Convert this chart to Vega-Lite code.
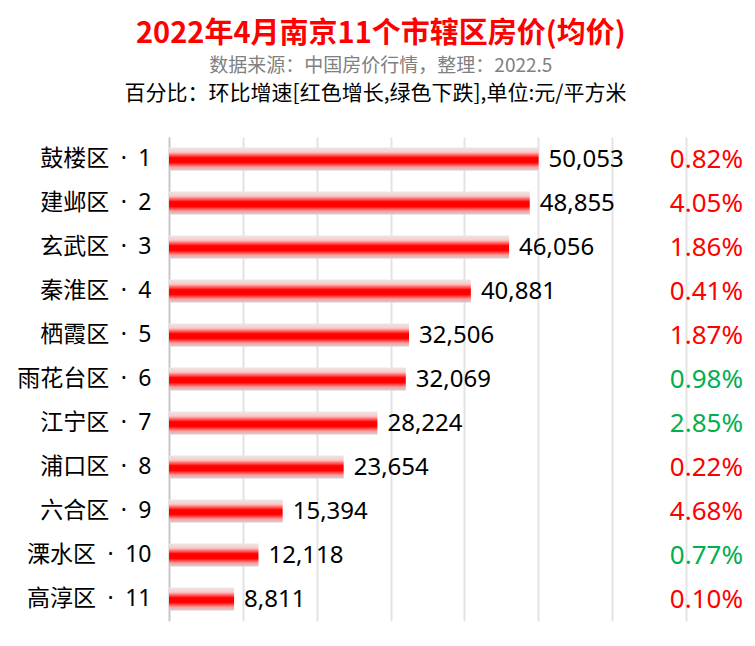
{
  "$schema": "https://vega.github.io/schema/vega-lite/v6.json",
  "width": 755,
  "height": 646,
  "autosize": {"type": "fit", "contains": "padding"},
  "padding": {"left": 16, "right": 10, "top": 20, "bottom": 25},
  "background": "white",
  "title": {
    "text": "2022年4月南京11个市辖区房价(均价)",
    "subtitle": "数据来源：中国房价行情，整理：2022.5",
    "anchor": "middle",
    "frame": "bounds",
    "font": "Noto Sans CJK SC",
    "fontSize": 29,
    "fontWeight": "bold",
    "color": "#ff0000",
    "subtitleFont": "Noto Sans CJK SC",
    "subtitleFontSize": 19,
    "subtitleColor": "#808080",
    "subtitlePadding": 8,
    "offset": 6
  },
  "config": {
    "view": {"stroke": null},
    "axis": {"labelFont": "Noto Sans, Noto Sans CJK SC", "titleFont": "Noto Sans CJK SC"}
  },
  "data": {
    "values": [
      {"district": "鼓楼区\u2002·\u20021", "price": 50053, "pct": "0.82%", "trend": "up"},
      {"district": "建邺区\u2002·\u20022", "price": 48855, "pct": "4.05%", "trend": "up"},
      {"district": "玄武区\u2002·\u20023", "price": 46056, "pct": "1.86%", "trend": "up"},
      {"district": "秦淮区\u2002·\u20024", "price": 40881, "pct": "0.41%", "trend": "up"},
      {"district": "栖霞区\u2002·\u20025", "price": 32506, "pct": "1.87%", "trend": "up"},
      {"district": "雨花台区\u2002·\u20026", "price": 32069, "pct": "0.98%", "trend": "down"},
      {"district": "江宁区\u2002·\u20027", "price": 28224, "pct": "2.85%", "trend": "down"},
      {"district": "浦口区\u2002·\u20028", "price": 23654, "pct": "0.22%", "trend": "up"},
      {"district": "六合区\u2002·\u20029", "price": 15394, "pct": "4.68%", "trend": "up"},
      {"district": "溧水区\u2002·\u200210", "price": 12118, "pct": "0.77%", "trend": "down"},
      {"district": "高淳区\u2002·\u200211", "price": 8811, "pct": "0.10%", "trend": "up"}
    ]
  },
  "encoding": {
    "y": {
      "field": "district",
      "type": "nominal",
      "sort": null,
      "scale": {"paddingInner": 0.48, "paddingOuter": 0.24},
      "axis": {
        "title": null,
        "ticks": false,
        "labelFontSize": 23,
        "labelColor": "#000000",
        "labelPadding": 18,
        "domainColor": "#c8c8c8",
        "domainWidth": 2
      }
    }
  },
  "layer": [
    {
      "mark": {
        "type": "bar",
        "color": {
          "gradient": "linear",
          "x1": 0, "y1": 0, "x2": 0, "y2": 1,
          "stops": [
            {"offset": 0, "color": "#e8e8e8"},
            {"offset": 0.2, "color": "#ffc8c8"},
            {"offset": 0.45, "color": "#ff0000"},
            {"offset": 0.65, "color": "#ff0000"},
            {"offset": 0.85, "color": "#ff9c9c"},
            {"offset": 1, "color": "#d0d0d0"}
          ]
        }
      },
      "encoding": {
        "x": {
          "field": "price",
          "type": "quantitative",
          "scale": {"domain": [0, 78000], "nice": false},
          "axis": {
            "orient": "top",
            "values": [10000, 20000, 30000, 40000, 50000, 60000, 70000],
            "labels": false,
            "ticks": false,
            "domain": false,
            "grid": true,
            "gridColor": "#e3e3e3",
            "gridWidth": 2,
            "title": "百分比：环比增速[红色增长,绿色下跌],单位:元/平方米",
            "titleFontSize": 21,
            "titleFontWeight": "normal",
            "titleColor": "#000000",
            "titleX": 206,
            "titleY": -38,
            "titleAlign": "center",
            "titleBaseline": "alphabetic"
          }
        }
      }
    },
    {
      "mark": {"type": "text", "align": "left", "baseline": "middle", "dx": 10, "dy": 1, "fontSize": 24, "font": "Noto Sans", "color": "#000000"},
      "encoding": {
        "x": {"field": "price", "type": "quantitative"},
        "text": {"field": "price", "type": "quantitative", "format": ","}
      }
    },
    {
      "mark": {"type": "text", "align": "right", "baseline": "middle", "dx": -2, "dy": 1, "fontSize": 26, "font": "Noto Sans"},
      "encoding": {
        "x": {"datum": 78000},
        "text": {"field": "pct", "type": "nominal"},
        "color": {
          "field": "trend",
          "type": "nominal",
          "scale": {"domain": ["up", "down"], "range": ["#ff0000", "#00b050"]},
          "legend": null
        }
      }
    }
  ]
}
